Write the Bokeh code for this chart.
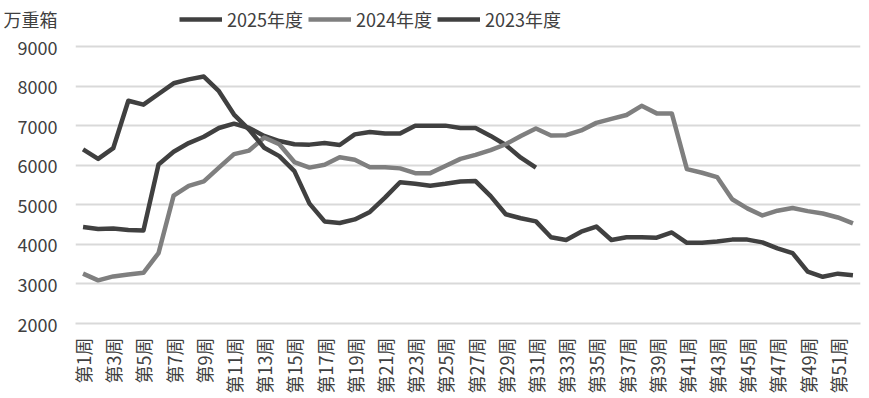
import math
from bokeh.plotting import figure
from bokeh.models import FixedTicker, Legend, LegendItem, Range1d
from bokeh.embed import file_html
from bokeh.resources import INLINE

weeks = list(range(1, 53))
tick_weeks = list(range(1, 52, 2))
tick_labels = {w: f"第{w}周" for w in tick_weeks}
y_ticks = [2000, 3000, 4000, 5000, 6000, 7000, 8000, 9000]

unit_label = "万重箱"
series_names = ["2025年度", "2024年度", "2023年度"]

s2025 = [4440, 4390, 4400, 4360, 4350, 6020, 6340, 6560, 6720, 6940,
         7050, 6940, 6740, 6610, 6530, 6520, 6560, 6510, 6780, 6840,
         6800, 6800, 7000, 7000, 7000, 6940, 6940, 6740, 6510, 6190,
         5940]
s2024 = [3260, 3090, 3190, 3240, 3280, 3780, 5230, 5480, 5590, 5940,
         6280, 6370, 6700, 6530, 6080, 5940, 6010, 6200, 6140, 5950,
         5950, 5920, 5800, 5800, 5980, 6160, 6260, 6380, 6530, 6740,
         6930, 6750, 6760, 6880, 7070, 7170, 7270, 7500, 7310, 7310,
         5900, 5810, 5700, 5140, 4910, 4730, 4850, 4920, 4840, 4780,
         4680, 4530]
s2023 = [6400, 6160, 6430, 7630, 7530, 7800, 8070, 8170, 8240, 7870,
         7280, 6900, 6440, 6230, 5850, 5030, 4580, 4540, 4630, 4820,
         5180, 5570, 5530, 5480, 5530, 5590, 5600, 5220, 4760, 4660,
         4580, 4180, 4110, 4320, 4450, 4110, 4180, 4180, 4170, 4300,
         4040, 4040, 4070, 4120, 4120, 4050, 3900, 3780, 3310, 3180,
         3260, 3220]

FONT = "Noto Sans CJK SC"
TXT = "#404040"
GRID = "#D9D9D9"
DARK = "#404040"
GRAY = "#7F7F7F"

# frame: 323 px tall, 9000 sits 46 px below its top, 2000 at its bottom
Y_MIN, Y_MAX_TICK = 2000, 9000
PX_PER_UNIT = (323 - 46) / (Y_MAX_TICK - Y_MIN)
Y_TOP = Y_MAX_TICK + 46 / PX_PER_UNIT
UNIT_POS = Y_MAX_TICK + (46 - 18.5) / PX_PER_UNIT

p = figure(width=866, height=396, output_backend="svg", toolbar_location=None,
           x_range=Range1d(0.5, 52.5), y_range=Range1d(Y_MIN, Y_TOP),
           min_border_left=68, min_border_right=6, min_border_top=0,
           min_border_bottom=73)
p.title.visible = False
p.outline_line_color = None
p.background_fill_color = "white"
p.border_fill_color = "white"

p.xgrid.visible = False
p.ygrid.ticker = FixedTicker(ticks=y_ticks)
p.ygrid.grid_line_color = GRID
p.ygrid.grid_line_width = 2

ya = p.yaxis[0]
ya.ticker = FixedTicker(ticks=y_ticks + [UNIT_POS])
ya.major_label_overrides = {UNIT_POS: unit_label}
ya.axis_line_color = None
ya.major_tick_line_color = None
ya.minor_tick_line_color = None
ya.major_label_standoff = 12
ya.major_label_text_font = FONT
ya.major_label_text_font_size = "18px"
ya.major_label_text_color = TXT

xa = p.xaxis[0]
xa.ticker = FixedTicker(ticks=tick_weeks)
xa.major_label_overrides = tick_labels
xa.major_label_orientation = math.pi / 2
xa.axis_line_color = GRID
xa.axis_line_width = 2
xa.major_tick_line_color = None
xa.minor_tick_line_color = None
xa.major_label_standoff = 8
xa.major_label_text_font = FONT
xa.major_label_text_font_size = "18px"
xa.major_label_text_color = TXT

r25 = p.line(weeks[:len(s2025)], s2025, line_color=DARK, line_width=4.5, line_join="round")
r24 = p.line(weeks, s2024, line_color=GRAY, line_width=4.5, line_join="round")
r23 = p.line(weeks, s2023, line_color=DARK, line_width=4.5, line_join="round")

legend = Legend(items=[LegendItem(label=series_names[0], renderers=[r25]),
                       LegendItem(label=series_names[1], renderers=[r24]),
                       LegendItem(label=series_names[2], renderers=[r23])],
                orientation="horizontal", location=(104, 291),
                glyph_width=43, glyph_height=20, label_height=20,
                label_standoff=5, spacing=5,
                padding=0, margin=0, border_line_color=None,
                background_fill_alpha=0,
                label_text_font=FONT, label_text_font_size="18px",
                label_text_color=TXT)
p.add_layout(legend)

open("out.html", "w").write(file_html(p, INLINE))
